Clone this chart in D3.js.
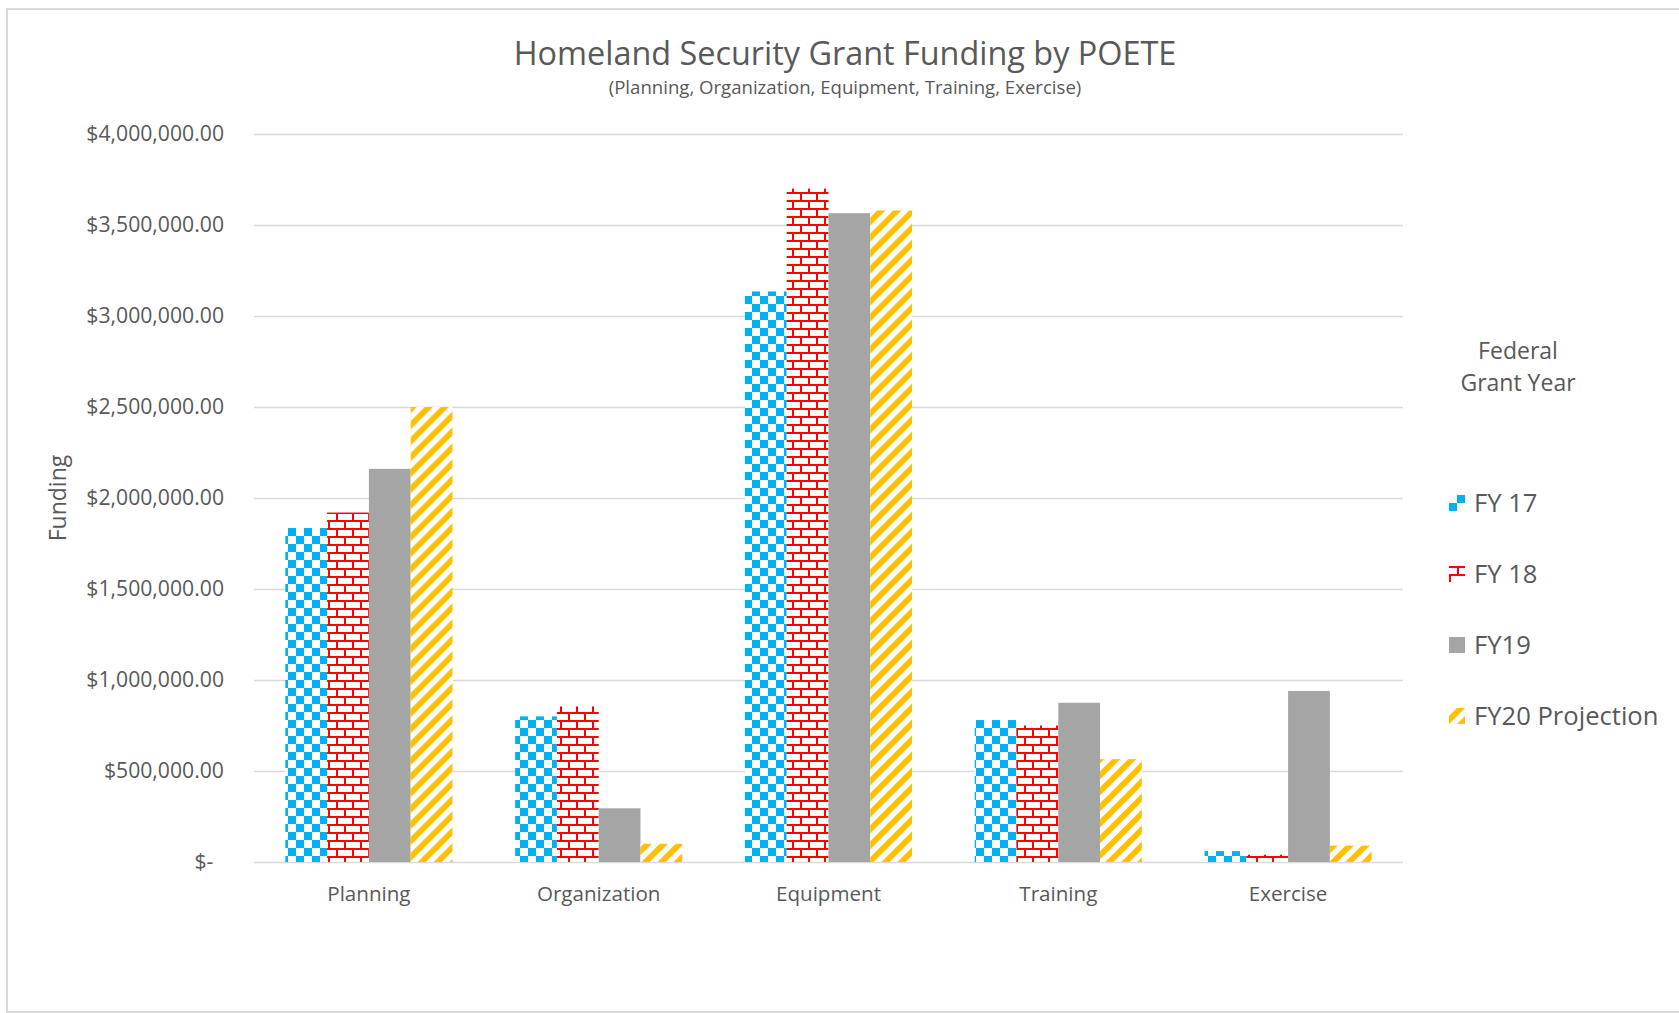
<!DOCTYPE html>
<meta charset="utf-8">
<style>
body {
  margin: 0;
  background: #fff;
  font-family: "Open Sans", sans-serif;
}
text {
  fill: #595959;
}
.grid line {
  stroke: #d9d9d9;
  stroke-width: 1.5;
}
</style>
<body>
<script src="https://cdn.jsdelivr.net/npm/d3@7"></script>
<script>

var categories = ["Planning", "Organization", "Equipment", "Training", "Exercise"];
var seriesNames = ["FY 17", "FY 18", "FY19", "FY20 Projection"];

var fy17 = [1835000, 800000, 3135000, 780000, 60000];
var fy18 = [1920000, 855000, 3700000, 750000, 40000];
var fy19 = [2160000, 295000, 3565000, 875000, 940000];
var fy20 = [2500000, 100000, 3580000, 565000, 90000];

var yTicks = [0, 500000, 1000000, 1500000, 2000000, 2500000, 3000000, 3500000, 4000000];

var width = 1679,
    height = 1013;

var plot = {left: 254, right: 1403, top: 134, bottom: 862};

var series = [
  {name: seriesNames[0], values: fy17, fill: "url(#checker)"},
  {name: seriesNames[1], values: fy18, fill: "url(#brick)"},
  {name: seriesNames[2], values: fy19, fill: "#a5a5a5"},
  {name: seriesNames[3], values: fy20, fill: "url(#diag)"}
];

var svg = d3.select("body").append("svg")
    .attr("width", width)
    .attr("height", height);

// patterns like the excel fills
var defs = svg.append("defs");

var checker = defs.append("pattern")
    .attr("id", "checker")
    .attr("patternUnits", "userSpaceOnUse")
    .attr("width", 16)
    .attr("height", 16);
checker.append("rect").attr("width", 16).attr("height", 16).attr("fill", "#fff");
checker.append("rect").attr("width", 8).attr("height", 8).attr("fill", "#00b0f0");
checker.append("rect").attr("x", 8).attr("y", 8).attr("width", 8).attr("height", 8).attr("fill", "#00b0f0");

var brick = defs.append("pattern")
    .attr("id", "brick")
    .attr("patternUnits", "userSpaceOnUse")
    .attr("width", 16)
    .attr("height", 16);
brick.append("rect").attr("width", 16).attr("height", 16).attr("fill", "#fff");
brick.append("rect").attr("width", 16).attr("height", 2).attr("fill", "#ff0000");
brick.append("rect").attr("y", 8).attr("width", 16).attr("height", 2).attr("fill", "#ff0000");
brick.append("rect").attr("x", 0).attr("width", 2).attr("height", 8).attr("fill", "#ff0000");
brick.append("rect").attr("x", 8).attr("y", 8).attr("width", 2).attr("height", 8).attr("fill", "#ff0000");

var diag = defs.append("pattern")
    .attr("id", "diag")
    .attr("patternUnits", "userSpaceOnUse")
    .attr("width", 11.31)
    .attr("height", 11.31)
    .attr("patternTransform", "rotate(45)");
diag.append("rect").attr("width", 11.31).attr("height", 11.31).attr("fill", "#fff");
diag.append("rect").attr("width", 5.8).attr("height", 11.31).attr("fill", "#ffc000");

// chart frame
svg.append("rect")
    .attr("x", 7)
    .attr("y", 9)
    .attr("width", width + 20)
    .attr("height", 1003)
    .attr("fill", "#fff")
    .attr("stroke", "#d9d9d9")
    .attr("stroke-width", 2);

var x = d3.scaleBand()
    .domain(categories)
    .range([plot.left, plot.right]);

var x1 = d3.scaleBand()
    .domain(seriesNames)
    .range([0, x.bandwidth()])
    .paddingOuter(0.75);

var y = d3.scaleLinear()
    .domain([0, 4000000])
    .range([plot.bottom, plot.top]);

var money = d3.format("$,.2f");

var yAxis = svg.append("g")
    .attr("class", "grid")
    .attr("transform", "translate(" + plot.left + ",0)")
    .call(d3.axisLeft(y)
      .tickValues(yTicks)
      .tickSize(-(plot.right - plot.left))
      .tickPadding(30)
      .tickFormat(function(d) { return d === 0 ? "$-\u2002" : money(d); }));

yAxis.select(".domain").remove();
yAxis.selectAll("text")
    .attr("fill", "#595959")
    .style("font-size", "21.2px")
    .style("font-family", "'Open Sans', sans-serif");

var xAxis = svg.append("g")
    .attr("transform", "translate(0," + plot.bottom + ")")
    .call(d3.axisBottom(x).tickSize(0).tickPadding(24));

xAxis.select(".domain").remove();
xAxis.selectAll("text")
    .attr("fill", "#595959")
    .style("font-size", "20.6px")
    .style("font-family", "'Open Sans', sans-serif");

var groups = svg.selectAll(".series")
    .data(series)
  .enter().append("g")
    .attr("class", "series")
    .attr("fill", function(d) { return d.fill; });

groups.selectAll("rect")
    .data(function(s) {
      return s.values.map(function(v, i) { return {name: s.name, cat: categories[i], value: v}; });
    })
  .enter().append("rect")
    .attr("x", function(d) { return x(d.cat) + x1(d.name); })
    .attr("y", function(d) { return y(d.value); })
    .attr("width", x1.bandwidth())
    .attr("height", function(d) { return y(0) - y(d.value); });

// titles
svg.append("text")
    .attr("x", 845)
    .attr("y", 65)
    .attr("text-anchor", "middle")
    .style("font-size", "32.4px")
    .text("Homeland Security Grant Funding by POETE");

svg.append("text")
    .attr("x", 845)
    .attr("y", 94)
    .attr("text-anchor", "middle")
    .style("font-size", "18.6px")
    .text("(Planning, Organization, Equipment, Training, Exercise)");

svg.append("text")
    .attr("transform", "translate(66,498) rotate(-90)")
    .attr("text-anchor", "middle")
    .style("font-size", "23px")
    .text("Funding");

// legend
var legendTitle = svg.append("text")
    .attr("text-anchor", "middle")
    .style("font-size", "23px");
legendTitle.append("tspan").attr("x", 1518).attr("y", 359).text("Federal");
legendTitle.append("tspan").attr("x", 1518).attr("y", 391).text("Grant Year");

var legend = svg.selectAll(".legend")
    .data(series)
  .enter().append("g")
    .attr("class", "legend")
    .attr("transform", function(d, i) { return "translate(1449," + (503 + i * 71) + ")"; });

legend.append("rect")
    .attr("y", -8)
    .attr("width", 16)
    .attr("height", 16)
    .attr("fill", function(d) { return d.fill; });

legend.append("text")
    .attr("x", 25)
    .attr("y", 9)
    .style("font-size", "25.6px")
    .text(function(d) { return d.name; });

</script>
